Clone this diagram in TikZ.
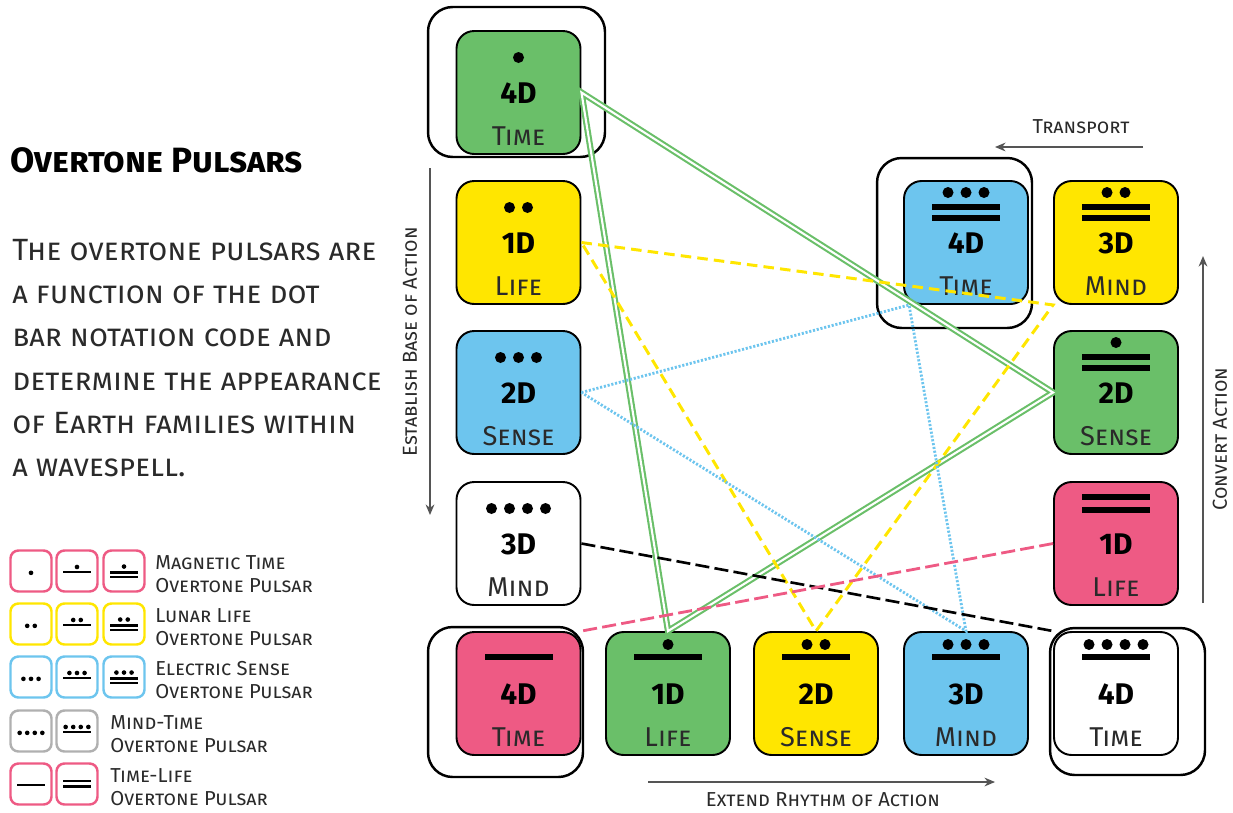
\documentclass[tikz,border=0pt]{standalone}
\usepackage{fontspec}
\setmainfont{Fira Sans}
\usetikzlibrary{arrows.meta}
\usepackage{xcolor}
\definecolor{PulsarGreen}{HTML}{6ABF69}
\definecolor{PulsarYellow}{HTML}{FFE600}
\definecolor{PulsarBlue}{HTML}{6DC5EE}
\definecolor{PulsarPink}{HTML}{EE5A84}
\definecolor{PulsarGray}{HTML}{B0B0B0}
\definecolor{PulsarLine}{HTML}{555555}
\definecolor{PulsarText}{HTML}{2A2A2A}
\tikzset{
    % Tile styles
    tile/.style={
        rectangle,
        rounded corners=10pt,
        draw=black,
        line width=1.1pt,
        minimum width=2.48cm,
        minimum height=2.46cm,
        inner sep=0pt
    },
    frame/.style={
        rectangle,
        rounded corners=14pt,
        draw=black,
        line width=1.4pt,
        inner sep=0pt
    },
    tilenum/.style={
        inner sep=0pt,
        font=\fontsize{17}{19}\selectfont\bfseries
    },
    tileword/.style={
        inner sep=0pt,
        text=PulsarText,
        font=\fontsize{15.5}{17}\selectfont\scshape
    },
    legendbox/.style={
        rectangle,
        rounded corners=4.5pt,
        line width=1.4pt,
        fill=white,
        minimum width=0.82cm,
        minimum height=0.82cm,
        inner sep=0pt
    },
    legendtext/.style={
        anchor=west,
        align=left,
        inner sep=0pt,
        text=PulsarText,
        font=\fontsize{11.5}{12.8}\selectfont\scshape
    },
    flowlabel/.style={
        inner sep=0pt,
        text=PulsarText,
        font=\fontsize{11.5}{13}\selectfont\scshape
    },
    % Arrow and link styles
    flowarrow/.style={
        -{Stealth[length=6pt,width=5pt]},
        line width=0.8pt,
        draw=PulsarLine
    },
    greenlink/.style={
        draw=PulsarGreen,
        double=white,
        double distance=1.2pt,
        line width=1.2pt
    },
    yellowlink/.style={
        draw=PulsarYellow,
        line width=1.7pt,
        dash pattern=on 6pt off 3.5pt
    },
    bluelink/.style={
        draw=PulsarBlue,
        line width=1.6pt,
        dash pattern=on 1.2pt off 1pt
    },
    blacklink/.style={
        draw=black,
        line width=1.5pt,
        dash pattern=on 8pt off 3pt
    },
    pinklink/.style={
        draw=PulsarPink,
        line width=1.6pt,
        dash pattern=on 8pt off 3pt
    }
}

% dots and bars of a tile: x, y, dots, bars, unit
\newcommand{\dotbar}[5]{%
    \begin{scope}[shift={(#1,#2)}, x=#5, y=-#5]
        \ifcase#4
            \def\doty{2}%
        \or
            \fill (-34,-3) rectangle (34,3);
            \def\doty{-12}%
        \or
            \ifnum#3=0
                \fill (-34,-13) rectangle (34,-7);
                \fill (-34,0) rectangle (34,6);
            \else
                \fill (-34,-2) rectangle (34,4);
                \fill (-34,9) rectangle (34,15);
            \fi
            \def\doty{-13}%
        \fi
        \ifnum#3>0
            \foreach \k in {1,...,#3}
                \fill ({(\k-(#3+1)/2)*18},\doty) circle[radius=5.5*#5];
        \fi
    \end{scope}}

% name, x, y, colour, dots, bars, number, word
\newcommand{\pulsar}[8]{%
    \node[tile, fill=#4] (#1) at (#2,#3) {};
    \node[tilenum] (#1num) at (#2,#3+1) {#7};
    \node[tileword] (#1word) at (#2,#3+44) {#8};
    \dotbar{#2}{#3-37}{#5}{#6}{0.02cm}}

% name, x, y, colour, dots, bars
\newcommand{\legendtile}[6]{%
    \node[legendbox, draw=#4] (#1) at (#2,#3) {};
    \dotbar{#2}{#3+1}{#5}{#6}{0.0084cm}}

\begin{document}
\begin{tikzpicture}[x=0.02cm, y=-0.02cm]
    \useasboundingbox (0,0) rectangle (1233,812);

    % Title and text
    \node[anchor=base west, inner sep=0pt, font=\fontsize{20}{22}\selectfont\bfseries\scshape] (title) at (10,172) {Overtone Pulsars};
    \node[anchor=north west, align=left, inner sep=0pt, text=PulsarText, font=\fontsize{17.5}{24.6}\selectfont\scshape] (intro) at (12,239)
        {The overtone pulsars are\\a function of the dot\\bar notation code and\\determine the appearance\\of Earth families within\\a wavespell.};

    % Legend
    \legendtile{leg11}{31}{571}{PulsarPink}{1}{0}
    \legendtile{leg12}{77}{571}{PulsarPink}{1}{1}
    \legendtile{leg13}{124}{571}{PulsarPink}{1}{2}
    \node[legendtext] (legtext1) at (155,574) {Magnetic Time\\Overtone Pulsar};
    \legendtile{leg21}{31}{624}{PulsarYellow}{2}{0}
    \legendtile{leg22}{77}{624}{PulsarYellow}{2}{1}
    \legendtile{leg23}{124}{624}{PulsarYellow}{2}{2}
    \node[legendtext] (legtext2) at (155,627) {Lunar Life\\Overtone Pulsar};
    \legendtile{leg31}{31}{677}{PulsarBlue}{3}{0}
    \legendtile{leg32}{77}{677}{PulsarBlue}{3}{1}
    \legendtile{leg33}{124}{677}{PulsarBlue}{3}{2}
    \node[legendtext] (legtext3) at (155,680) {Electric Sense\\Overtone Pulsar};
    \legendtile{leg41}{31}{731}{PulsarGray}{4}{0}
    \legendtile{leg42}{77}{731}{PulsarGray}{4}{1}
    \node[legendtext] (legtext4) at (110,734) {Mind-Time\\Overtone Pulsar};
    \legendtile{leg51}{31}{784}{PulsarPink}{0}{1}
    \legendtile{leg52}{77}{784}{PulsarPink}{0}{2}
    \node[legendtext] (legtext5) at (110,787) {Time-Life\\Overtone Pulsar};

    % Frames
    \node[frame, minimum width=3.54cm, minimum height=3cm] (frametl) at (516.5,82) {};
    \node[frame, minimum width=3.1cm, minimum height=3.4cm] (frametr) at (954.5,243) {};
    \node[frame, minimum width=3.1cm, minimum height=3cm] (framebl) at (505.5,702) {};
    \node[frame, minimum width=3.1cm, minimum height=2.94cm] (framebr) at (1127.5,701.5) {};

    % Tiles
    \pulsar{left4d}{518.5}{92.5}{PulsarGreen}{1}{0}{4D}{Time}
    \pulsar{left1d}{518.5}{242.5}{PulsarYellow}{2}{0}{1D}{Life}
    \pulsar{left2d}{518.5}{392.5}{PulsarBlue}{3}{0}{2D}{Sense}
    \pulsar{left3d}{518.5}{543.5}{white}{4}{0}{3D}{Mind}
    \pulsar{bot4d}{518.5}{693.5}{PulsarPink}{0}{1}{4D}{Time}
    \pulsar{bot1d}{668}{693.5}{PulsarGreen}{1}{1}{1D}{Life}
    \pulsar{bot2d}{816}{693.5}{PulsarYellow}{2}{1}{2D}{Sense}
    \pulsar{bot3d}{966}{693.5}{PulsarBlue}{3}{1}{3D}{Mind}
    \pulsar{corner4d}{1116}{693.5}{white}{4}{1}{4D}{Time}
    \pulsar{right1d}{1116}{543.5}{PulsarPink}{0}{2}{1D}{Life}
    \pulsar{right2d}{1116}{392.5}{PulsarGreen}{1}{2}{2D}{Sense}
    \pulsar{right3d}{1116}{242.5}{PulsarYellow}{2}{2}{3D}{Mind}
    \pulsar{top4d}{966}{242.5}{PulsarBlue}{3}{2}{4D}{Time}

    % Links
    \draw[greenlink] (left4d.east) -- (right2d.west) -- (bot1d.north) -- cycle;
    \draw[yellowlink] (left1d.east) -- (right3d.south west) -- (bot2d.north) -- cycle;
    \draw[bluelink] (left2d.east) -- ([xshift=0.12cm]top4d.south west) -- (bot3d.north) -- cycle;
    \draw[blacklink] (left3d.east) -- (corner4d.north west);
    \draw[pinklink] (right1d.west) -- (bot4d.north east);

    % Flow arrows
    \coordinate (transportA) at (1143,147);
    \coordinate (transportB) at (995,147);
    \coordinate (convertA) at (1203,603);
    \coordinate (convertB) at (1203,256);
    \coordinate (establishA) at (430,168);
    \coordinate (establishB) at (430,515);
    \coordinate (extendA) at (648,782);
    \coordinate (extendB) at (995,782);
    \draw[flowarrow] (transportA) -- (transportB);
    \draw[flowarrow] (convertA) -- (convertB);
    \draw[flowarrow] (establishA) -- (establishB);
    \draw[flowarrow] (extendA) -- (extendB);
    \node[flowlabel] (transport) at (1081,127) {Transport};
    \node[flowlabel, rotate=90] (convert) at (1220,439) {Convert Action};
    \node[flowlabel, rotate=90] (establish) at (410,342) {Establish Base of Action};
    \node[flowlabel] (extend) at (823,800) {Extend Rhythm of Action};
\end{tikzpicture}
\end{document}
